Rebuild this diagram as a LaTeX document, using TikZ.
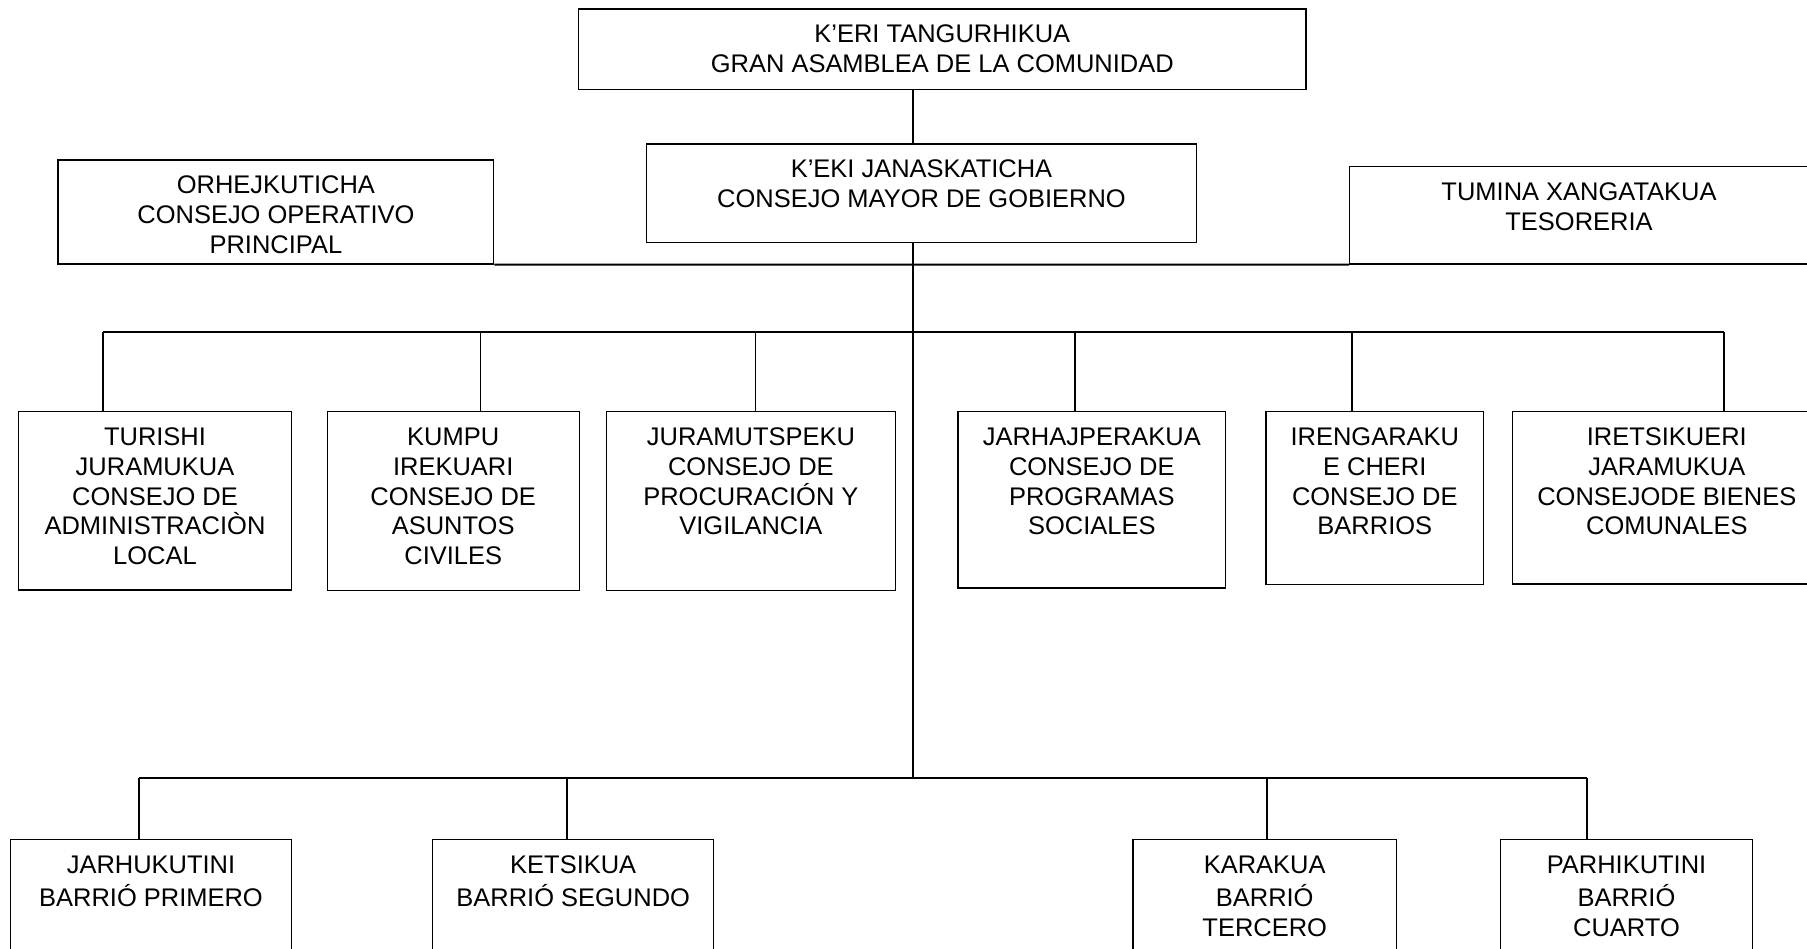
\documentclass[tikz,border=0pt]{standalone}
\usepackage{fontspec}
\setmainfont{Liberation Sans}
\newlength{\pxlen}\setlength{\pxlen}{0.02cm}
% text sits at the top of each box
\newcommand{\boxtext}[3]{\parbox[c][#2\pxlen][t]{#1\pxlen}{\centering\vspace*{7.5pt}\strut#3}}
\begin{document}
\begin{tikzpicture}[x=0.02cm,y=-0.02cm,
    unit/.style={draw, line width=0.75pt, inner sep=0pt, anchor=north, font=\fontsize{14.5}{16.9}\selectfont},
    link/.style={line width=1.1pt}]
      \useasboundingbox (0,0) rectangle (1807,949);

      % top
      \node[unit](asamblea) at (942.3,8.3) {\boxtext{727.4}{80.7}{K’ERI TANGURHIKUA\\GRAN ASAMBLEA DE LA COMUNIDAD}};
      \node[unit](gobierno) at (921.5,143.3) {\boxtext{550.3}{98.7}{K’EKI JANASKATICHA\\CONSEJO MAYOR DE GOBIERNO}};
      \node[unit](operativo) at (275.9,159.3) {\boxtext{435.7}{104}{ORHEJKUTICHA\\CONSEJO OPERATIVO\\PRINCIPAL}};
      \node[unit](tesoreria) at (1579,166) {\boxtext{459}{97.3}{TUMINA XANGATAKUA\\TESORERIA}};

      % consejos
      \node[unit](turishi) at (155,411) {\boxtext{273.2}{178.3}{TURISHI\\JURAMUKUA\\CONSEJO DE\\ADMINISTRACIÒN\\LOCAL}};
      \node[unit](kumpu) at (453.2,411) {\boxtext{252}{179}{KUMPU\\IREKUARI\\CONSEJO DE\\ASUNTOS\\CIVILES}};
      \node[unit](juramutspeku) at (750.9,411) {\boxtext{289.3}{179}{JURAMUTSPEKU\\CONSEJO DE\\PROCURACIÓN Y\\VIGILANCIA}};
      \node[unit](jarhajperakua) at (1091.8,411) {\boxtext{267.9}{176.3}{JARHAJPERAKUA\\CONSEJO DE\\PROGRAMAS\\SOCIALES}};
      \node[unit](irengaraku) at (1374.8,411) {\boxtext{217.6}{173}{IRENGARAKU\\E CHERI\\CONSEJO DE\\BARRIOS}};
      \node[unit](iretsikueri) at (1666.8,411) {\boxtext{308.4}{172.3}{IRETSIKUERI\\JARAMUKUA\\CONSEJODE BIENES\\COMUNALES}};

      % barrios
      \node[unit](jarhukutini) at (151,839) {\boxtext{281.3}{131}{JARHUKUTINI\\BARRIÓ PRIMERO}};
      \node[unit](ketsikua) at (573.2,839) {\boxtext{280.8}{131}{KETSIKUA\\BARRIÓ SEGUNDO}};
      \node[unit](karakua) at (1264.7,839) {\boxtext{263.3}{131}{KARAKUA\\BARRIÓ\\TERCERO}};
      \node[unit](parhikutini) at (1626.5,839) {\boxtext{252.2}{131}{PARHIKUTINI\\BARRIÓ\\CUARTO}};

      \coordinate (axis) at (912.7,0);
      \coordinate (bar) at (912.7,331.7);
      \coordinate (lowbar) at (912.7,778.3);

      \draw[link] (axis |- asamblea.south) -- (axis |- gobierno.north);
      \draw[link] (axis |- gobierno.south) -- (lowbar);
      \draw[link] (operativo.south east) -- (tesoreria.south west);

      \draw[link] (103.3,0 |- bar) -- (1724.3,0 |- bar);
      \foreach \x/\n in {103.3/turishi, 480.5/kumpu, 755.5/juramutspeku, 1074.7/jarhajperakua, 1351.8/irengaraku, 1724.3/iretsikueri}
        \draw[link] (\x,0 |- bar) -- (\x,0 |- \n.north);

      \draw[link] (139,0 |- lowbar) -- (1586.6,0 |- lowbar);
      \foreach \x/\n in {139/jarhukutini, 566.6/ketsikua, 1266.7/karakua, 1586.6/parhikutini}
        \draw[link] (\x,0 |- lowbar) -- (\x,0 |- \n.north);

    \end{tikzpicture}
\end{document}
